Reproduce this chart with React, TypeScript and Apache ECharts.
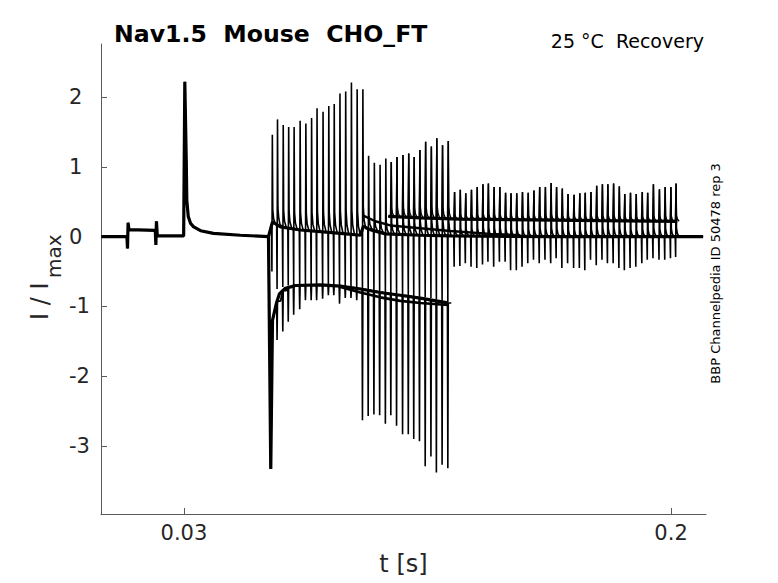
import { useEffect, useRef } from 'react';
import * as echarts from 'echarts';

type Pt = [number, number];

const X_TICKS = [0.03, 0.2];
const Y_TICKS = [-3, -2, -1, 0, 1, 2];

// times of the test-pulse transients [s]
const SPIKE_T = [
  0.0607, 0.0625, 0.0645, 0.0664, 0.0683, 0.0704, 0.0724, 0.0744, 0.0763, 0.0784, 0.0804, 0.0823,
  0.0843, 0.0863, 0.0883, 0.0903, 0.0923,
  0.0943, 0.0963, 0.0983, 0.1003, 0.1022, 0.1042, 0.1063, 0.1083, 0.1102, 0.1122, 0.1142, 0.1162,
  0.1181, 0.1201, 0.1221,
  0.1243, 0.1263, 0.1282, 0.1302, 0.1322, 0.1342, 0.1361, 0.1381, 0.1401, 0.1421, 0.1440, 0.1460,
  0.1480, 0.1500, 0.1520, 0.1540, 0.1560, 0.1580, 0.1599, 0.1619, 0.1639, 0.1660, 0.1680, 0.1699,
  0.1719, 0.1739, 0.1759, 0.1778, 0.1798, 0.1818, 0.1837, 0.1857, 0.1877, 0.1898, 0.1917, 0.1937,
  0.1958, 0.1978, 0.1998, 0.2016,
];

// upward peaks of the sweeps sitting near 0
const PEAK_A = [
  1.46, 1.68, 1.60, 1.57, 1.57, 1.66, 1.62, 1.70, 1.84, 1.79, 1.87, 1.90, 2.05, 2.08, 2.21, 2.11, 2.11,
  1.16, 1.06, 1.03, 1.12, 1.07, 1.14, 1.17, 1.19, 1.14, 1.24, 1.36, 1.29, 1.41, 1.31, 1.37,
  0.64, 0.67, 0.62, 0.67, 0.71, 0.75, 0.76, 0.71, 0.71, 0.63, 0.62, 0.62, 0.64, 0.63, 0.66, 0.71,
  0.71, 0.77, 0.71, 0.69, 0.61, 0.60, 0.62, 0.63, 0.64, 0.73, 0.75, 0.75, 0.76, 0.72, 0.61, 0.63,
  0.61, 0.64, 0.63, 0.75, 0.68, 0.71, 0.71, 0.76,
];

// downward troughs of the same sweeps
const TROUGH_A = [
  -0.50, -0.75, -0.72, -0.70, -0.70, -0.69, -0.69, -0.69, -0.69, -0.69, -0.69, -0.70, -0.70, -0.71,
  -0.72, -0.73, -0.75,
  -0.77, -0.78, -0.79, -0.80, -0.81, -0.82, -0.83, -0.84, -0.85, -0.86, -0.87, -0.88, -0.90, -0.92, -0.94,
  -0.43, -0.42, -0.38, -0.43, -0.45, -0.40, -0.36, -0.43, -0.36, -0.36, -0.48, -0.48, -0.43, -0.38,
  -0.33, -0.38, -0.33, -0.38, -0.31, -0.45, -0.38, -0.45, -0.45, -0.48, -0.33, -0.41, -0.33, -0.38,
  -0.38, -0.45, -0.48, -0.45, -0.43, -0.38, -0.33, -0.31, -0.33, -0.33, -0.31, -0.29,
];

// inward currents of the sweep held near -0.7 (spikes 1..31)
const TROUGH_L = [
  -1.48, -1.36, -1.22, -1.12, -1.04, -0.91, -0.91, -0.91, -0.89, -0.84, -0.84, -0.96, -0.88, -0.88, -0.91,
  -2.63, -2.57, -2.55, -2.56, -2.68, -2.56, -2.71, -2.83, -2.83, -2.90, -2.93, -3.29, -3.15, -3.38, -3.27, -3.32,
];

const TRACE_A: Pt[] = [
  [0.0012, 0.0], [0.0101, 0.0], [0.0103, -0.17], [0.0105, 0.2], [0.0108, 0.1], [0.02, 0.09],
  [0.0202, -0.12], [0.0204, 0.22], [0.0207, 0.01], [0.0299, 0.01], [0.0303, 2.22], [0.0308, 1.1],
  [0.031, 0.52], [0.0315, 0.29], [0.0323, 0.19], [0.0334, 0.14], [0.0358, 0.085], [0.0403, 0.047],
  [0.0497, 0.02], [0.0595, 0.0], [0.0609, 0.21], [0.0637, 0.14], [0.0706, 0.095], [0.0846, 0.047],
  [0.0916, 0.02], [0.0926, 0.15], [0.095, 0.1], [0.1003, 0.04], [0.1125, 0.02], [0.123, 0.01],
  [0.1578, 0.0], [0.2112, 0.0],
];

const TRACE_B: Pt[] = [
  [0.1013, 0.29], [0.1125, 0.27], [0.1264, 0.25], [0.1508, 0.24], [0.1752, 0.23], [0.2022, 0.22],
];

const TRACE_C: Pt[] = [
  [0.0926, 0.3], [0.0968, 0.22], [0.102, 0.16], [0.1125, 0.12], [0.123, 0.08], [0.1369, 0.04], [0.1474, 0.02],
];

const TRACE_L1: Pt[] = [
  [0.0595, 0.0], [0.0603, -3.33], [0.0609, -1.2], [0.0623, -0.95], [0.0633, -0.82], [0.0654, -0.74],
  [0.0689, -0.7], [0.0776, -0.69], [0.0846, -0.71], [0.0916, -0.75], [0.0985, -0.8], [0.1055, -0.84],
  [0.1125, -0.88], [0.1221, -0.95],
];

const TRACE_L2: Pt[] = [
  [0.0846, -0.72], [0.0916, -0.8], [0.0985, -0.87], [0.1055, -0.92], [0.1125, -0.95], [0.1221, -0.98],
];

const FONT = 'DejaVu Sans';
const INK = '#262626';
const AXIS = '#5a5a5a';
const DT = 0.00015;

interface Spike {
  t: number;
  lo?: number;
  hi?: number;
}

function baseAt(trace: Pt[], t: number) {
  if (t <= trace[0][0]) return trace[0][1];
  for (let i = 1; i < trace.length; i++) {
    if (trace[i][0] >= t) {
      const [t0, v0] = trace[i - 1];
      const [t1, v1] = trace[i];
      return v0 + ((v1 - v0) * (t - t0)) / (t1 - t0);
    }
  }
  return trace[trace.length - 1][1];
}

// insert each transient into a sweep: dip, peak, then a short decay back to the sweep level
function addSpikes(trace: Pt[], spikes: Spike[]): Pt[] {
  const pts: Pt[] = trace.filter(
    p => !spikes.some(s => p[0] > s.t - DT && p[0] < s.t + 8 * DT),
  );
  spikes.forEach(s => {
    const b = baseAt(trace, s.t);
    const lo = s.lo ?? b;
    const hi = s.hi ?? b;
    const up = hi - b;
    pts.push(
      [s.t - DT, b],
      [s.t, lo],
      [s.t + DT, hi],
      [s.t + 2 * DT, b + up * 0.16],
      [s.t + 4 * DT, b + up * 0.06],
      [s.t + 8 * DT, b],
    );
  });
  return pts.sort((p, q) => p[0] - q[0]);
}

function line(data: Pt[], width: number) {
  return {
    type: 'line' as const,
    data,
    symbol: 'none',
    silent: true,
    lineStyle: { color: '#000', width },
  };
}

export default function App() {
  const chartRef = useRef<HTMLDivElement>(null);

  useEffect(() => {
    if (!chartRef.current) return;
    const chart = echarts.init(chartRef.current, undefined, { renderer: 'svg' });

    const spikesA: Spike[] = SPIKE_T.map((t, i) => ({ t, lo: TROUGH_A[i], hi: PEAK_A[i] }));
    const spikesL: Spike[] = TROUGH_L.map((lo, i) => ({ t: SPIKE_T[i + 1], lo }));
    const spikesB: Spike[] = SPIKE_T.map((t, i) => ({ t, hi: PEAK_A[i] })).filter(
      s => s.t > TRACE_B[0][0] && s.t < TRACE_B[TRACE_B.length - 1][0],
    );

    const series = [
      line(TRACE_A, 3.2),
      line(TRACE_B, 3.2),
      line(TRACE_C, 2.4),
      line(TRACE_L1, 3.2),
      line(TRACE_L2, 2.6),
      line(addSpikes(TRACE_A, spikesA), 1.6),
      line(addSpikes(TRACE_B, spikesB), 1.3),
      line(addSpikes(TRACE_L1, spikesL), 1.6),
    ];

    const tickStyle = { color: AXIS, width: 1 };

    chart.setOption({
      animation: false,
      backgroundColor: '#fff',
      grid: { left: 101, right: 72, top: 44, bottom: 69 },
      xAxis: {
        type: 'value',
        min: 0.00105,
        max: 0.2122,
        axisLine: { show: true, onZero: false, lineStyle: tickStyle },
        axisTick: { show: true, inside: true, length: 6, customValues: X_TICKS, lineStyle: tickStyle },
        axisLabel: {
          customValues: X_TICKS,
          formatter: (v: number) => String(v),
          fontSize: 21,
          fontFamily: FONT,
          color: INK,
          margin: 8,
        },
        splitLine: { show: false },
        name: 't [s]',
        nameLocation: 'middle',
        nameGap: 38,
        nameTextStyle: { fontSize: 24, fontFamily: FONT, color: INK },
      },
      yAxis: {
        type: 'value',
        min: -3.974,
        max: 2.76,
        axisLine: { show: true, onZero: false, lineStyle: tickStyle },
        axisTick: { show: true, inside: true, length: 6, customValues: Y_TICKS, lineStyle: tickStyle },
        axisLabel: {
          customValues: Y_TICKS,
          formatter: (v: number) => String(v),
          fontSize: 21,
          fontFamily: FONT,
          color: INK,
          align: 'left',
          margin: 32,
        },
        splitLine: { show: false },
      },
      series,
      graphic: [
        {
          type: 'text',
          x: 114,
          y: 33.5,
          style: {
            text: 'Nav1.5  Mouse  CHO_FT',
            fontSize: 23.6,
            fontWeight: 'bold',
            fontFamily: FONT,
            fill: '#000',
            align: 'left',
            verticalAlign: 'middle',
          },
        },
        {
          type: 'text',
          x: 704,
          y: 40.7,
          style: {
            text: '25 °C  Recovery',
            fontSize: 19,
            fontFamily: FONT,
            fill: '#000',
            align: 'right',
            verticalAlign: 'middle',
          },
        },
        {
          type: 'text',
          x: 715,
          y: 273.4,
          rotation: Math.PI / 2,
          style: {
            text: 'BBP Channelpedia ID 50478 rep 3',
            fontSize: 13,
            fontFamily: FONT,
            fill: '#000',
            align: 'center',
            verticalAlign: 'middle',
          },
        },
        {
          type: 'text',
          x: 39.7,
          y: 320,
          rotation: Math.PI / 2,
          style: {
            text: 'I / I',
            fontSize: 24,
            fontFamily: FONT,
            fill: INK,
            align: 'left',
            verticalAlign: 'middle',
          },
        },
        {
          type: 'text',
          x: 54,
          y: 278,
          rotation: Math.PI / 2,
          style: {
            text: 'max',
            fontSize: 20,
            fontFamily: FONT,
            fill: INK,
            align: 'left',
            verticalAlign: 'middle',
          },
        },
      ],
    });

    return () => chart.dispose();
  }, []);

  return (
    <div
      ref={chartRef}
      style={{ position: 'absolute', left: 0, top: 0, width: 778, height: 583 }}
    />
  );
}
